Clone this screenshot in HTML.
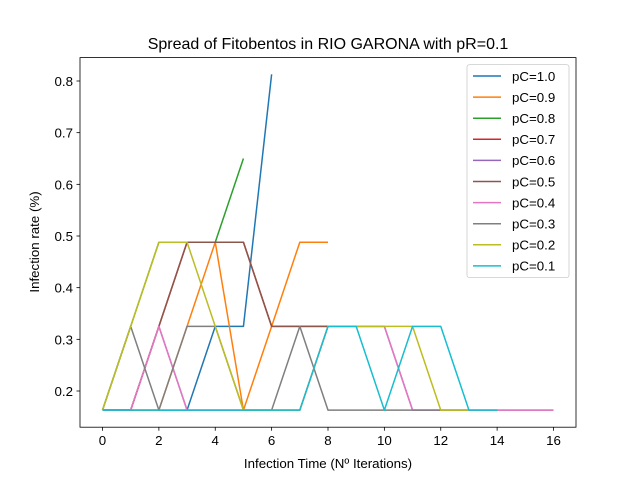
<!DOCTYPE html>
<html><head><meta charset="utf-8"><style>
body{margin:0;background:#fff}
svg{display:block;font-family:"Liberation Sans","DejaVu Sans",sans-serif}
</style></head><body>
<svg id="c" width="640" height="480">
<rect x="0" y="0" width="640" height="480" fill="#fff"/>
<text x="328" y="49" text-anchor="middle" font-size="16">Spread of Fitobentos in RIO GARONA with pR=0.1</text>
<g id="plot"></g>
<rect x="80" y="57.6" width="496" height="369.6" fill="none" stroke="#000" stroke-width="0.8"/>
<text x="328" y="468" text-anchor="middle" font-size="13.3">Infection Time (Nº Iterations)</text>
<text transform="translate(39,242) rotate(-90)" text-anchor="middle" font-size="13.3">Infection rate (%)</text>
<g id="legend"></g>
</svg>
<script>
const L1=0.163,L2=0.325,L3=0.488,L4=0.65,L5=0.813;
const labels=["pC=1.0","pC=0.9","pC=0.8","pC=0.7","pC=0.6","pC=0.5","pC=0.4","pC=0.3","pC=0.2","pC=0.1"];
const colors=["#1f77b4","#ff7f0e","#2ca02c","#d62728","#9467bd","#8c564b","#e377c2","#7f7f7f","#bcbd22","#17becf"];
const s10=[L1,L1,L1,L1,L2,L2,L5];
const s09=[L1,L1,L1,L2,L3,L1,L2,L3,L3];
const s08=[L1,L2,L3,L3,L3,L4];
const s07=[L1,L1,L2,L3,L3,L3,L2,L2,L2];
const s06=[L1,L1,L2,L1,L1,L1,L1,L1,L2,L2,L2,L1,L1,L1,L1,L1,L1];
const s05=[L1,L1,L2,L3,L3,L3,L2,L2,L2];
const s04=[L1,L1,L2,L1,L1,L1,L1,L1,L2,L2,L2,L1,L1,L1,L1,L1,L1];
const s03=[L1,L2,L1,L2,L2,L1,L1,L2,L1,L1,L1,L1,L1,L1];
const s02=[L1,L2,L3,L3,L2,L1,L1,L1,L2,L2,L2,L2,L1,L1];
const s01=[L1,L1,L1,L1,L1,L1,L1,L1,L2,L2,L1,L2,L2,L1,L1];
const series=[s10,s09,s08,s07,s06,s05,s04,s03,s02,s01];
const xTicks=[0,2,4,6,8,10,12,14,16];
const yTicks=[0.2,0.3,0.4,0.5,0.6,0.7,0.8];
const NS="http://www.w3.org/2000/svg";
const xs=v=>102.5+v*(553.5-102.5)/16;
const ys=v=>391-(v-0.2)*(391-81)/0.6;
const plot=document.getElementById('plot');
function mk(t,a,p){const e=document.createElementNS(NS,t);for(const k in a)e.setAttribute(k,a[k]);p.appendChild(e);return e;}
xTicks.forEach(t=>{
 const g=mk('g',{},plot);
 
 
 mk('line',{x1:xs(t),x2:xs(t),y1:427.2,y2:430.7,stroke:'#000','stroke-width':0.8},g);
 const tx=mk('text',{x:xs(t),y:445,'text-anchor':'middle','font-size':13.3},g);tx.textContent=t;
});
yTicks.forEach(t=>{
 const g=mk('g',{},plot);
 
 
 mk('line',{x1:76.5,x2:80,y1:ys(t),y2:ys(t),stroke:'#000','stroke-width':0.8},g);
 const tx=mk('text',{x:73,y:ys(t)+5,'text-anchor':'end','font-size':13.3},g);tx.textContent=t.toFixed(1);
});
series.forEach((s,i)=>{
 const p=mk('polyline',{points:s.map((v,j)=>xs(j)+','+ys(v)).join(' '),fill:'none',stroke:colors[i],'stroke-width':1.5,'stroke-linejoin':'round'},plot);
 
 
});
const lg=document.getElementById('legend');


mk('rect',{x:467,y:64.6,width:102,height:213,rx:2.5,fill:'#fff','fill-opacity':0.8,stroke:'#ccc','stroke-width':0.8},lg);
labels.forEach((l,i)=>{
 const y=76+i*21.1;
 const g=mk('g',{},lg);
 
 
 mk('line',{x1:473,x2:501,y1:y,y2:y,stroke:colors[i],'stroke-width':1.5},g);
 const tx=mk('text',{x:512,y:y+4.8,'font-size':13.3},g);tx.textContent=l;
});
</script>
</body></html>
